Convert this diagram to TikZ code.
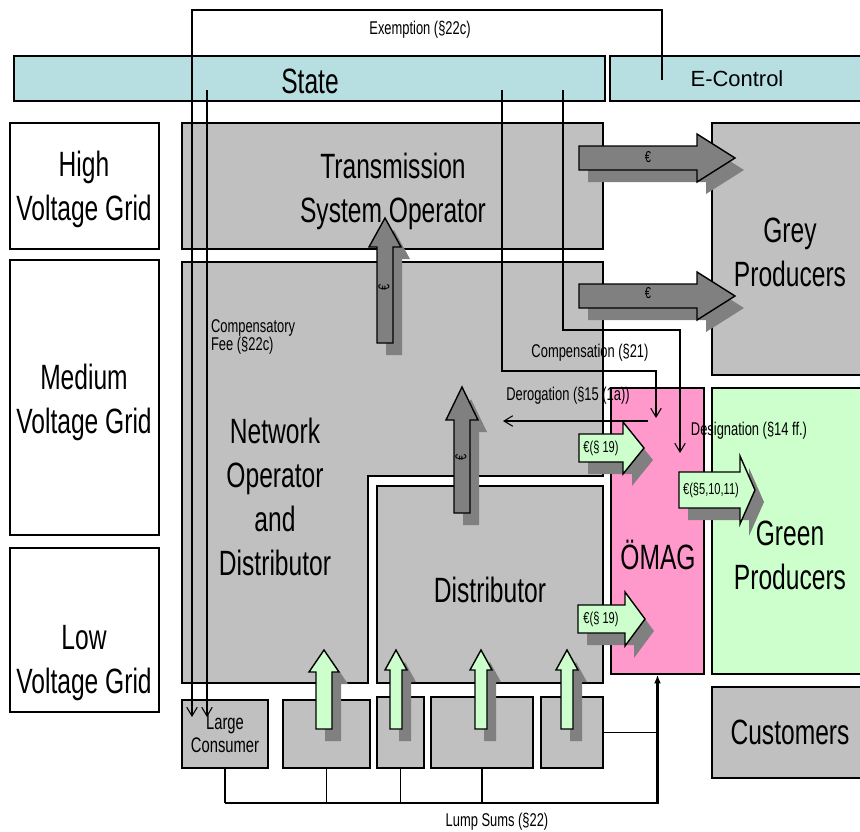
\documentclass[tikz,border=0pt]{standalone}
\usepackage{fontspec}
\setmainfont{Liberation Sans}[FakeStretch=0.7]
\newfontfamily\plainsans{Liberation Sans}
\usepackage{tikz}
\usetikzlibrary{arrows.meta,fit,positioning}

\definecolor{statecol}{RGB}{183,222,225}
\definecolor{boxgrey}{RGB}{192,192,192}
\definecolor{arrowgrey}{RGB}{128,128,128}
\definecolor{greencol}{RGB}{204,255,204}
\definecolor{pinkcol}{RGB}{255,153,204}

% block arrow pointing up: style, x, tip y, head y, bottom y, half shaft, half head
\newcommand{\blockup}[7]{%
  \fill[arrowgrey, shift={(9,12)}] (#2-#6,#5) -- (#2-#6,#4) -- (#2-#7,#4) -- (#2,#3) -- (#2+#7,#4) -- (#2+#6,#4) -- (#2+#6,#5) -- cycle;
  \filldraw[#1] (#2-#6,#5) -- (#2-#6,#4) -- (#2-#7,#4) -- (#2,#3) -- (#2+#7,#4) -- (#2+#6,#4) -- (#2+#6,#5) -- cycle;
}
% block arrow pointing right: style, y, tip x, head x, start x, half shaft, half head
\newcommand{\blockright}[7]{%
  \fill[arrowgrey, shift={(9,12)}] (#5,#2-#6) -- (#4,#2-#6) -- (#4,#2-#7) -- (#3,#2) -- (#4,#2+#7) -- (#4,#2+#6) -- (#5,#2+#6) -- cycle;
  \filldraw[#1] (#5,#2-#6) -- (#4,#2-#6) -- (#4,#2-#7) -- (#3,#2) -- (#4,#2+#7) -- (#4,#2+#6) -- (#5,#2+#6) -- cycle;
}

\begin{document}
\begin{tikzpicture}[x=0.02cm, y=-0.02cm,
  bigtext/.style={font=\fontsize{20}{25}\selectfont, align=center},
  smalltext/.style={font=\fontsize{10.5}{10.5}\selectfont, inner sep=1pt},
  eurotext/.style={font=\fontsize{9}{9}\selectfont, inner sep=0pt},
  gridbox/.style={draw, line width=0.8pt, fill=white, inner sep=0pt},
  greybox/.style={draw, line width=0.8pt, fill=boxgrey, inner sep=0pt},
  statebox/.style={draw, line width=0.8pt, fill=statecol, inner sep=0pt},
  darkarrow/.style={fill=arrowgrey, draw=black, line width=0.8pt},
  greenarrow/.style={fill=greencol, draw=black, line width=0.8pt},
  link/.style={draw, line width=0.6pt},
  tip/.style={-{Straight Barb[length=5pt,width=6pt]}},
  lump/.style={draw, line width=1.3pt, -{Latex[length=5pt,width=4pt]}}]
\useasboundingbox (0,0) rectangle (860,832);

% top bars
\node[statebox, fit={(14,56)(605,101)}] (state) {};
\node[statebox, fit={(610,56)(866,101)}] (econtrol) {};
\node[bigtext] (statelab) at (310,81) {State};
\node[font=\plainsans\fontsize{12.5}{14}\selectfont] (econtrollab) at (737,79) {E-Control};

% voltage levels
\node[gridbox, fit={(10,123)(159,249)}] (high) {};
\node[gridbox, fit={(10,260)(159,535)}] (medium) {};
\node[gridbox, fit={(10,548)(159,712)}] (low) {};
\node[bigtext] (highlab) at (84,189) {High\\Voltage Grid};
\node[bigtext] (mediumlab) at (84,402) {Medium\\Voltage Grid};
\node[bigtext] (lowlab) at (84,663) {Low\\Voltage Grid};

% operators
\node[greybox, fit={(182,123)(603,249)}] (tso) {};
\node[bigtext] (tsolab) at (393,191) {Transmission\\System Operator};
\filldraw[fill=boxgrey, line width=0.8pt] (182,262) -- (603,262) -- (603,476) -- (368,476) -- (368,683) -- (182,683) -- cycle;
\node[bigtext] (netop) at (275,497) {Network\\Operator\\and\\Distributor};
\node[greybox, fit={(377,486)(603,683)}] (distr) {};
\node[bigtext] (distrlab) at (490,590) {Distributor};

% producers
\node[greybox, fit={(712,123)(866,375)}] (grey) {};
\node[bigtext] (greylab) at (790,252) {Grey\\Producers};
\node[greybox, fit={(611,388)(704,674)}, fill=pinkcol] (omag) {};
\node[bigtext] (omaglab) at (658,555) {ÖMAG};
\node[greybox, fit={(712,388)(866,674)}, fill=greencol] (green) {};
\node[bigtext] (greenlab) at (790,555) {Green\\Producers};
\node[greybox, fit={(712,687)(866,778)}] (cust) {};
\node[bigtext] (custlab) at (790,732) {Customers};

% consumers and small producers
\node[greybox, fit={(182,700)(268,768)}] (large) {};
\node[align=center, font=\fontsize{12}{13}\selectfont] (largelab) at (225,734) {Large\\Consumer};
\node[greybox, fit={(283,700)(370,768)}] (genA) {};
\node[greybox, fit={(377,697)(424,768)}] (genB) {};
\node[greybox, fit={(431,697)(533,768)}] (genC) {};
\node[greybox, fit={(541,697)(603,768)}] (genD) {};

% connectors
\coordinate (exS) at (662,80);
\coordinate (exE) at (192,717);
\coordinate (feeS) at (207,90);
\coordinate (feeE) at (207,717);
\coordinate (compS) at (502,90);
\coordinate (compE) at (656,418);
\coordinate (desS) at (563,90);
\coordinate (desE) at (680,453);
\coordinate (derS) at (648,421);
\coordinate (derE) at (503,421);
\coordinate (lumpL) at (225,803);

\draw[link, tip] (exS) -- ++(0,-70) -| (exE);
\draw[link, tip] (feeS) -- (feeE);
\draw[link, tip] (compS) -- ++(0,281) -| (compE);
\draw[link, tip] (desS) -- ++(0,240) -| (desE);
\draw[link, tip] (derS) -- (derE);

\draw[link] (large.south) -- (lumpL);
\draw[link] (genA.south) -- (genA.south |- lumpL);
\draw[link] (genB.south) -- (genB.south |- lumpL);
\draw[link] (genC.south) -- (genC.south |- lumpL);
\draw[link] (genD.east) -- (genD.east -| omag.south);
\draw[lump] (lumpL) -| (omag.south);

% labels
\node[smalltext] (exlab) at (420,30) {Exemption (§22c)};
\node[smalltext, align=left, anchor=west] (feelab) at (209,337) {Compensatory\\Fee (§22c)};
\node[smalltext] (complab) at (590,353) {Compensation (§21)};
\node[smalltext] (derlab) at (568,396) {Derogation (§15 (1a))};
\node[smalltext] (deslab) at (749,431) {Designation (§14 ff.)};
\node[smalltext] (lumplab) at (497,822) {Lump Sums (§22)};

% money flows
\blockright{darkarrow}{158}{735}{697}{579}{12}{24}
\blockright{darkarrow}{296}{735}{697}{579}{12}{24}
\blockup{darkarrow}{385}{218}{247}{343}{8}{16}
\blockup{darkarrow}{462}{387}{420}{513}{8}{16}
\node[eurotext] (eurA) at (648,157) {€};
\node[eurotext] (eurB) at (648,293) {€};
\node[eurotext, rotate=90] (eurC) at (384,287) {€};
\node[eurotext, rotate=90] (eurD) at (461,457) {€};

\blockup{greenarrow}{324}{650}{672}{729}{8}{15}
\blockup{greenarrow}{396}{650}{670}{729}{6}{11}
\blockup{greenarrow}{481}{650}{670}{729}{6}{11}
\blockup{greenarrow}{567}{650}{670}{729}{6}{11}

\blockright{greenarrow}{448}{644}{623}{579}{14}{26}
\blockright{greenarrow}{490}{755}{740}{679}{18}{34}
\blockright{greenarrow}{619}{645}{625}{578}{14}{27}
\node[eurotext] (fitA) at (601,448) {€(§ 19)};
\node[eurotext] (fitB) at (711,490) {€(§5,10,11)};
\node[eurotext] (fitC) at (601,619) {€(§ 19)};
\end{tikzpicture}
\end{document}
